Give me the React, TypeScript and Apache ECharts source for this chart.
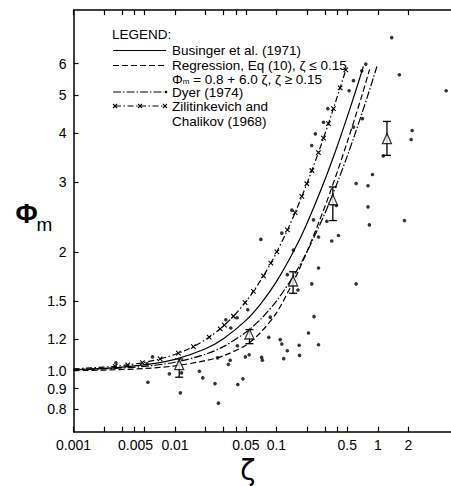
import React, { useEffect, useRef } from 'react';
import * as echarts from 'echarts';

// ---- axis ticks / labels ----
const xTickValues = [0.001, 0.002, 0.003, 0.004, 0.005, 0.01, 0.02, 0.03, 0.04, 0.05, 0.1, 0.2, 0.3, 0.4, 0.5, 1, 2];
const xLabelValues = [0.001, 0.005, 0.01, 0.05, 0.1, 0.5, 1, 2];
const xLabels = ['0.001', '0.005', '0.01', '0.05', '0.1', '0.5', '1', '2'];
const yTickValues = [0.8, 0.9, 1.0, 1.2, 1.5, 2, 3, 4, 5, 6];
const yLabels = ['0.8', '0.9', '1.0', '1.2', '1.5', '2', '3', '4', '5', '6'];

// ---- curves ----
const busingerZeta = [0.001, 0.002, 0.005, 0.01, 0.02, 0.03, 0.05, 0.07, 0.1, 0.15, 0.2, 0.3, 0.4, 0.5, 0.6, 0.72];
const busingerPhi = [1.006, 1.013, 1.034, 1.068, 1.136, 1.204, 1.34, 1.476, 1.68, 2.02, 2.36, 3.04, 3.72, 4.4, 5.08, 5.9];

const regressionZeta = [0.001, 0.002, 0.005, 0.01, 0.02, 0.03, 0.05, 0.07, 0.1, 0.15, 0.2, 0.3, 0.4, 0.5, 0.6, 0.7, 0.83];
const regressionPhi = [1.0, 1.003, 1.012, 1.028, 1.06, 1.09, 1.16, 1.25, 1.4, 1.7, 2.0, 2.6, 3.2, 3.8, 4.4, 5.0, 5.8];

const dyerZeta = [0.001, 0.002, 0.005, 0.01, 0.02, 0.03, 0.05, 0.07, 0.1, 0.15, 0.2, 0.3, 0.4, 0.5, 0.6, 0.7, 0.8, 0.9, 0.98];
const dyerPhi = [1.005, 1.01, 1.025, 1.05, 1.1, 1.15, 1.25, 1.35, 1.5, 1.75, 2.0, 2.5, 3.0, 3.5, 4.0, 4.5, 5.0, 5.5, 5.9];

const zilZeta = [0.001, 0.00257, 0.00342, 0.00477, 0.00713, 0.0108, 0.0152, 0.0217, 0.0279, 0.0307, 0.0377, 0.0491, 0.0593, 0.0745, 0.0881, 0.101, 0.1285, 0.153, 0.178, 0.1995, 0.2236, 0.2595, 0.291, 0.326, 0.365, 0.425, 0.483];
const zilPhi = [1.01, 1.025, 1.034, 1.047, 1.07, 1.107, 1.15, 1.215, 1.276, 1.304, 1.373, 1.486, 1.587, 1.738, 1.872, 2.0, 2.272, 2.515, 2.762, 2.975, 3.214, 3.569, 3.881, 4.227, 4.614, 5.208, 5.78];

// ---- observations ----
const obsZeta = [0.00261, 0.0053, 0.0054, 0.006, 0.0088, 0.0113, 0.0116, 0.0174, 0.0188, 0.0248, 0.0268, 0.0263, 0.0336, 0.035, 0.0317, 0.0355, 0.041, 0.0412, 0.0416, 0.0467, 0.0494, 0.0538, 0.0522, 0.0702, 0.0715, 0.0727, 0.0841, 0.087, 0.109, 0.113, 0.118, 0.128, 0.1675, 0.169, 0.207, 0.235, 0.223, 0.26, 0.26, 0.26, 0.223, 0.242, 0.291, 0.321, 0.314, 0.351, 0.409, 0.39, 0.521, 0.575, 0.575, 0.611, 0.611, 0.695, 0.761, 0.705, 0.8, 0.8, 0.826, 0.885, 1.13, 1.37, 1.63, 1.83, 2.18, 2.13, 4.72, 0.142, 0.147, 0.113, 0.232, 0.128, 0.163];
const obsPhi = [1.046, 1.041, 0.934, 1.083, 0.981, 0.878, 0.987, 0.996, 0.958, 0.927, 0.827, 1.077, 1.037, 1.062, 1.345, 1.282, 1.361, 1.156, 0.922, 0.953, 1.083, 1.097, 1.426, 2.15, 1.08, 1.062, 1.214, 1.366, 1.198, 1.168, 1.072, 1.123, 1.159, 1.093, 1.245, 1.37, 1.658, 1.82, 1.163, 2.18, 3.72, 3.98, 4.26, 4.61, 2.39, 2.13, 2.2, 2.62, 5.12, 5.43, 4.14, 2.98, 1.658, 5.75, 5.98, 4.35, 2.94, 2.6, 2.34, 3.14, 3.5, 6.98, 5.62, 2.4, 4.06, 3.85, 5.12, 2.55, 2.02, 2.23, 2.41, 1.75, 1.6];

// ---- bin means with error bars ----
const meanZeta = [0.011, 0.0542, 0.146, 0.36, 1.23];
const meanPhi = [1.035, 1.238, 1.687, 2.71, 3.87];
const errLo = [0.962, 1.17, 1.57, 2.4, 3.51];
const errHi = [1.07, 1.27, 1.78, 2.92, 4.28];

const FONT = 'Liberation Sans, Arial, Helvetica, sans-serif';

function nearestLabel(v: number, vals: number[], labels: string[]) {
  let best = 0;
  let bd = Infinity;
  for (let i = 0; i < vals.length; i++) {
    const d = Math.abs(Math.log(v) - Math.log(vals[i]));
    if (d < bd) { bd = d; best = i; }
  }
  return labels[best];
}

const pairs = (a: number[], b: number[]) => a.map((x, i) => [x, b[i]]);

export default function App() {
  const ref = useRef<HTMLDivElement>(null);
  useEffect(() => {
    if (!ref.current) return;
    const chart = echarts.init(ref.current, null, { renderer: 'svg' });
    const xMin = 0.001;
    const xMax = 6.3;
    const yMin = 0.7;
    const yMax = 8.2;
    const axisLineStyle = { color: '#000', width: 1.5 };
    const tickStyle = { color: '#000', width: 1.2 };
    const xmark = 'path://M0,0L10,10M10,0L0,10';
    const lt = (text: string, y: number) => ({
      type: 'text', x: 172, y,
      style: { text, fontSize: 13.5, lineHeight: 14, fontFamily: FONT, fill: '#000', verticalAlign: 'middle' },
    });

    const option: any = {
      animation: false,
      backgroundColor: '#fff',
      grid: { left: 73.6, top: 10, width: 385.3, height: 421.7, containLabel: false, outerBoundsMode: 'none' },
      xAxis: [
        {
          type: 'log', min: xMin, max: xMax, position: 'bottom',
          name: 'ζ', nameLocation: 'middle', nameGap: 17,
          nameTextStyle: { fontSize: 28, lineHeight: 28, color: '#000', fontFamily: 'DejaVu Sans', padding: [0, 37, 0, 0] },
          axisLine: { show: true, lineStyle: axisLineStyle },
          axisTick: { show: true, inside: true, length: 5, lineStyle: tickStyle, customValues: xTickValues },
          minorTick: { show: false },
          splitLine: { show: false },
          axisLabel: {
            show: true, margin: 6, color: '#000', fontSize: 14, fontFamily: FONT,
            customValues: xLabelValues,
            formatter: (v: number) => {
              const s = nearestLabel(v, xLabelValues, xLabels);
              return s === '0.005' ? '{l|' + s + '}' : s;
            },
            rich: { l: { fontSize: 14, fontFamily: FONT, color: '#000', padding: [0, 18, 0, 0] } },
          },
        },
        {
          type: 'log', min: xMin, max: xMax, position: 'top',
          axisLine: { show: true, lineStyle: axisLineStyle },
          axisTick: { show: true, inside: true, length: 5, lineStyle: tickStyle, customValues: xTickValues },
          minorTick: { show: false },
          splitLine: { show: false },
          axisLabel: { show: false },
        },
      ],
      yAxis: {
        type: 'log', min: yMin, max: yMax,
        axisLine: { show: true, lineStyle: axisLineStyle },
        axisTick: { show: true, inside: true, length: 5, lineStyle: tickStyle, customValues: yTickValues },
        minorTick: { show: false },
        splitLine: { show: false },
        axisLabel: {
          show: true, margin: 7, color: '#000', fontSize: 14, fontFamily: FONT,
          customValues: yTickValues,
          formatter: (v: number) => nearestLabel(v, yTickValues, yLabels),
        },
      },
      series: [
        {
          name: 'Observations', type: 'scatter', xAxisIndex: 0, data: pairs(obsZeta, obsPhi),
          symbol: 'circle', symbolSize: 3.6, itemStyle: { color: '#000' }, z: 3,
        },
        {
          name: 'Businger et al. (1971)', type: 'line', xAxisIndex: 0, data: pairs(busingerZeta, busingerPhi),
          symbol: 'none', smooth: 0.3, lineStyle: { color: '#000', width: 1.2, type: 'solid' }, z: 2,
        },
        {
          name: 'Regression', type: 'line', xAxisIndex: 0, data: pairs(regressionZeta, regressionPhi),
          symbol: 'none', smooth: 0.3, lineStyle: { color: '#000', width: 1.2, type: [6, 3] }, z: 2,
        },
        {
          name: 'Dyer (1974)', type: 'line', xAxisIndex: 0, data: pairs(dyerZeta, dyerPhi),
          symbol: 'none', smooth: 0.3, lineStyle: { color: '#000', width: 1.2, type: [8, 2, 1.5, 2] }, z: 2,
        },
        {
          name: 'Zilitinkevich and Chalikov (1968)', type: 'line', xAxisIndex: 0,
          data: zilZeta.map((z, i) => (i === 0 ? { value: [z, zilPhi[i]], symbol: 'none' } : [z, zilPhi[i]])),
          symbol: xmark, symbolSize: 4.5, showSymbol: true, smooth: 0.3,
          itemStyle: { color: '#000', borderColor: '#000', borderWidth: 1.1 },
          lineStyle: { color: '#000', width: 1.2, type: [6, 2.5, 1.5, 2.5] }, z: 2,
        },
        {
          name: 'Error bars', type: 'custom', xAxisIndex: 0,
          data: meanZeta.map((z, i) => [z, errLo[i], errHi[i]]),
          encode: { x: 0, y: [1, 2] },
          renderItem: (params: any, api: any) => {
            const x = api.value(0);
            const pLo = api.coord([x, api.value(1)]);
            const pHi = api.coord([x, api.value(2)]);
            const hw = 4;
            const st = { stroke: '#000', lineWidth: 1.3, fill: 'none' };
            return {
              type: 'group',
              children: [
                { type: 'line', shape: { x1: pLo[0], y1: pLo[1], x2: pHi[0], y2: pHi[1] }, style: st },
                { type: 'line', shape: { x1: pLo[0] - hw, y1: pLo[1], x2: pLo[0] + hw, y2: pLo[1] }, style: st },
                { type: 'line', shape: { x1: pHi[0] - hw, y1: pHi[1], x2: pHi[0] + hw, y2: pHi[1] }, style: st },
              ],
            };
          },
          z: 4,
        },
        {
          name: 'Bin means', type: 'scatter', xAxisIndex: 0, data: pairs(meanZeta, meanPhi),
          symbol: 'triangle', symbolSize: [9, 10],
          itemStyle: { color: '#fff', borderColor: '#000', borderWidth: 1.3 }, z: 5,
        },
      ],
      graphic: [
        // y-axis title Φm
        { type: 'text', x: 26.5, y: 214, style: { text: 'Φ', fontSize: 27, fontWeight: 'bold', fontFamily: FONT, fill: '#000', align: 'center', verticalAlign: 'middle' } },
        { type: 'text', x: 44.5, y: 224, style: { text: 'm', fontSize: 19, fontFamily: FONT, fill: '#000', align: 'center', verticalAlign: 'middle' } },
        // legend
        { type: 'text', x: 112, y: 34, style: { text: 'LEGEND:', fontSize: 13.5, lineHeight: 14, fontFamily: FONT, fill: '#000', verticalAlign: 'middle' } },
        { type: 'line', shape: { x1: 113, y1: 50.5, x2: 166, y2: 50.5 }, style: { stroke: '#000', lineWidth: 1.2 } },
        lt('Businger et al. (1971)', 50.5),
        { type: 'line', shape: { x1: 113, y1: 65.5, x2: 166, y2: 65.5 }, style: { stroke: '#000', lineWidth: 1.2, lineDash: [6, 3] } },
        lt('Regression, Eq (10), ζ ≤ 0.15', 65),
        {
          type: 'text', x: 172, y: 79,
          style: {
            text: '{a|Φ}{s|m}{a| = 0.8 + 6.0 ζ, ζ ≥ 0.15}', verticalAlign: 'middle', fill: '#000',
            rich: {
              a: { fontSize: 13.5, fontFamily: FONT, fill: '#000', lineHeight: 13 },
              s: { fontSize: 8, fontFamily: FONT, fill: '#000', verticalAlign: 'bottom', lineHeight: 8 },
            },
          },
        },
        { type: 'line', shape: { x1: 113, y1: 92, x2: 164, y2: 92 }, style: { stroke: '#000', lineWidth: 1.2, lineDash: [8, 2, 1.5, 2] } },
        { type: 'circle', shape: { cx: 166, cy: 92, r: 1.3 }, style: { fill: '#000' } },
        lt('Dyer (1974)', 92.5),
        { type: 'line', shape: { x1: 115, y1: 106, x2: 165, y2: 106 }, style: { stroke: '#000', lineWidth: 1.2, lineDash: [6, 2.5, 1.5, 2.5] } },
        ...[115, 140, 165].flatMap((cx) => [
          { type: 'line', shape: { x1: cx - 2, y1: 104, x2: cx + 2, y2: 108 }, style: { stroke: '#000', lineWidth: 1.1 } },
          { type: 'line', shape: { x1: cx - 2, y1: 108, x2: cx + 2, y2: 104 }, style: { stroke: '#000', lineWidth: 1.1 } },
        ]),
        lt('Zilitinkevich and', 106.5),
        lt('Chalikov (1968)', 121),
      ],
    };
    chart.setOption(option);
    return () => chart.dispose();
  }, []);
  return (
    <div
      ref={ref}
      style={{ position: 'absolute', left: 0, top: 0, width: 451, height: 486, background: '#fff', overflow: 'hidden' }}
    />
  );
}
